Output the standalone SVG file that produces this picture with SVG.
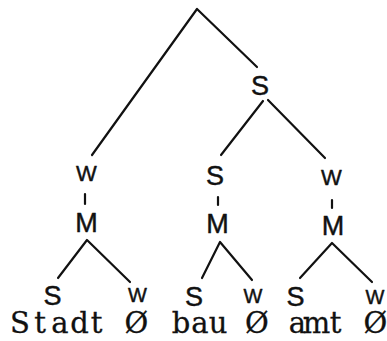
<svg xmlns="http://www.w3.org/2000/svg" width="387" height="341" viewBox="0 0 387 341">
<style>
.lab{font-family:"Liberation Sans","DejaVu Sans",sans-serif;fill:#111;stroke:#111;stroke-width:0.45;stroke-linejoin:round;text-anchor:middle}
.big{font-size:27px}
.w{font-size:22px}
.ws{font-size:20px}
.word{font-family:"DejaVu Serif","Liberation Serif",serif;font-size:29px;fill:#111;stroke:#111;stroke-width:0.3;text-anchor:middle}
.edge{fill:none;stroke:#111;stroke-width:2.2;stroke-linecap:round;stroke-linejoin:round}
</style>
<rect width="387" height="341" fill="#fff"/>
<g id="connectors" class="edge">
  <polyline points="92,155 197,9 257,67"/>
  <line x1="263" y1="101" x2="221" y2="155"/>
  <line x1="268" y1="100" x2="325" y2="158"/>
  <line x1="85" y1="194" x2="85" y2="204"/>
  <line x1="218" y1="197" x2="218" y2="205"/>
  <line x1="332" y1="200" x2="332" y2="208"/>
  <polyline points="58,278 87,240 130,282"/>
  <polyline points="202,278 220,242 252,280"/>
  <polyline points="300,278 332,243 372,282"/>
</g>
<g id="n-top-S"><text class="lab big" x="260" y="95">S</text></g>
<g id="n-left-W"><text class="lab w" x="86.5" y="181">W</text></g>
<g id="n-left-M"><text class="lab big" x="86.5" y="232">M</text></g>
<g id="n-left-S2"><text class="lab big" x="52.5" y="305">S</text></g>
<g id="n-left-W2"><text class="lab ws" x="137.5" y="302">W</text></g>
<g id="n-mid-S"><text class="lab big" x="215" y="185">S</text></g>
<g id="n-mid-M"><text class="lab big" x="217.5" y="233">M</text></g>
<g id="n-mid-S2"><text class="lab big" x="194" y="306">S</text></g>
<g id="n-mid-W2"><text class="lab ws" x="253" y="303">W</text></g>
<g id="n-right-W"><text class="lab w" x="331.5" y="185">W</text></g>
<g id="n-right-M"><text class="lab big" x="333" y="235">M</text></g>
<g id="n-right-S2"><text class="lab big" x="295.5" y="306">S</text></g>
<g id="n-right-W2"><text class="lab ws" x="375" y="304">W</text></g>
<g id="words">
  <text class="word" x="20 40 60 79.5 96.5" y="333">Stadt</text>
  <text class="word" x="136.5" y="333">Ø</text>
  <text class="word" x="181 200 218" y="333">bau</text>
  <text class="word" x="257" y="333">Ø</text>
  <text class="word" x="297.5 316.5 335.5" y="333">amt</text>
  <text class="word" x="375.5" y="333">Ø</text>
</g>
</svg>
